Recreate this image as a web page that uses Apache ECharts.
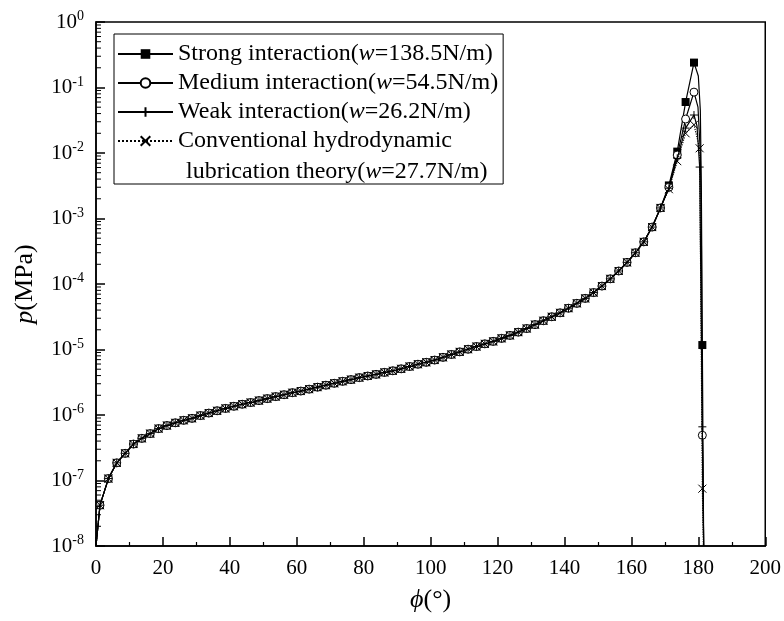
<!DOCTYPE html>
<html>
<head>
<meta charset="utf-8">
<script src="https://cdn.jsdelivr.net/npm/echarts@6/dist/echarts.min.js"></script>
<style>
  html, body { margin: 0; padding: 0; background: #fff; }
  #chart { width: 784px; height: 621px; }
</style>
</head>
<body>
<div id="chart"></div>
<script>
// shared part of the four curves (markers every ~2.5 deg)
const phiBody = [1.2, 3.7, 6.2, 8.7, 11.2, 13.7, 16.2, 18.7, 21.2, 23.7, 26.2, 28.7, 31.2, 33.7, 36.2, 38.7,
  41.2, 43.7, 46.2, 48.7, 51.2, 53.7, 56.2, 58.7, 61.2, 63.7, 66.2, 68.7, 71.2, 73.7, 76.2, 78.7,
  81.2, 83.7, 86.2, 88.7, 91.2, 93.7, 96.2, 98.7, 101.2, 103.7, 106.2, 108.7, 111.2, 113.7, 116.2, 118.7,
  121.2, 123.7, 126.2, 128.7, 131.2, 133.7, 136.2, 138.7, 141.2, 143.7, 146.2, 148.7, 151.2, 153.7, 156.2, 158.7,
  161.2, 163.7, 166.2, 168.7];
const pBody = [4.2e-8, 1.07e-7, 1.86e-7, 2.6e-7, 3.6e-7, 4.4e-7, 5.2e-7, 6.2e-7, 6.9e-7, 7.6e-7, 8.3e-7, 8.9e-7, 9.8e-7, 1.07e-6, 1.16e-6, 1.26e-6,
  1.36e-6, 1.46e-6, 1.55e-6, 1.66e-6, 1.78e-6, 1.91e-6, 2.04e-6, 2.19e-6, 2.32e-6, 2.48e-6, 2.66e-6, 2.85e-6, 3.05e-6, 3.27e-6, 3.47e-6, 3.72e-6,
  3.94e-6, 4.17e-6, 4.47e-6, 4.73e-6, 5.07e-6, 5.5e-6, 5.96e-6, 6.38e-6, 6.9e-6, 7.6e-6, 8.4e-6, 9.2e-6, 1.01e-5, 1.11e-5, 1.22e-5, 1.33e-5,
  1.48e-5, 1.64e-5, 1.84e-5, 2.09e-5, 2.4e-5, 2.75e-5, 3.16e-5, 3.63e-5, 4.27e-5, 5.07e-5, 6.03e-5, 7.4e-5, 9.3e-5, 1.2e-4, 1.58e-4, 2.14e-4,
  3.0e-4, 4.4e-4, 7.4e-4, 1.45e-3];
const phiStart = [0];
const pStart = [1e-8];

// peak part, markers
const phiStrongTail = [171.2, 173.7, 176.2, 178.7, 181.2];
const pStrongTail = [3.2e-3, 1.05e-2, 6.0e-2, 2.4e-1, 1.17e-5];
const phiMediumTail = [171.2, 173.7, 176.2, 178.7, 181.2];
const pMediumTail = [3.0e-3, 9.3e-3, 3.3e-2, 8.5e-2, 4.9e-7];
const phiWeakTail = [171.2, 173.7, 176.2, 178.7, 180.4, 181.2];
const pWeakTail = [2.9e-3, 8.3e-3, 2.4e-2, 3.8e-2, 6.1e-3, 6.6e-7];
const phiConvTail = [171.2, 173.7, 176.2, 178.7, 180.4, 181.2];
const pConvTail = [2.8e-3, 7.5e-3, 2.0e-2, 2.7e-2, 1.18e-2, 7.5e-8];

// peak part, line only (no marker)
const phiStrongBend = [180.0, 180.6, 180.9, 181.6];
const pStrongBend = [1.5e-1, 4.5e-2, 3e-3, 1e-8];
const phiMediumBend = [179.9, 180.6, 180.9, 181.6];
const pMediumBend = [5.0e-2, 1.0e-2, 8e-4, 1e-8];
const phiWeakBend = [179.6, 181.6];
const pWeakBend = [2.6e-2, 1e-8];
const phiConvBend = [181.5];
const pConvBend = [1e-8];

const seriesNames = ['Strong interaction', 'Medium interaction', 'Weak interaction', 'Conventional hydrodynamic'];
const loads = ['138.5', '54.5', '26.2', '27.7'];

const minorMantissa = [2, 3, 4, 5, 6, 7, 8, 9];
const decades = [-8, -7, -6, -5, -4, -3, -2, -1];

const FONT = '"Liberation Serif", "DejaVu Serif", serif';

function buildData(phiMarks, pMarks, phiLine, pLine) {
  const pts = [];
  phiMarks.forEach((x, i) => pts.push({ value: [x, pMarks[i]] }));
  phiLine.forEach((x, i) => pts.push({ value: [x, pLine[i]], symbol: 'none' }));
  pts.sort((a, b) => a.value[0] - b.value[0]);
  return pts;
}

const minorTicks = [];
decades.forEach(d => minorMantissa.forEach(m => minorTicks.push([0, m * Math.pow(10, d)])));

const rich = {
  n: { fontFamily: FONT, fontSize: 24, lineHeight: 24, color: '#000' },
  i: { fontFamily: FONT, fontSize: 24, lineHeight: 24, fontStyle: 'italic', color: '#000' }
};
const nameRich = {
  n: { fontFamily: FONT, fontSize: 26, color: '#000' },
  i: { fontFamily: FONT, fontSize: 26, fontStyle: 'italic', color: '#000' }
};

const chart = echarts.init(document.getElementById('chart'), null, { renderer: 'canvas' });

function lineSeries(idx, phiTail, pTail, phiBend, pBend, symbol, itemStyle, dotted) {
  return {
    name: seriesNames[idx],
    type: 'line',
    data: buildData(phiBody.concat(phiTail), pBody.concat(pTail), phiStart.concat(phiBend), pStart.concat(pBend)),
    symbol: symbol,
    symbolSize: 8,
    showSymbol: true,
    showAllSymbol: true,
    lineStyle: { color: '#000', width: 1.2, type: dotted ? 'dotted' : 'solid' },
    itemStyle: itemStyle,
    animation: false,
    clip: true,
    z: 3 + idx
  };
}

const option = {
  animation: false,
  backgroundColor: '#fff',
  grid: {
    left: 96, right: 16, top: 22, bottom: 75,
    show: true, borderColor: '#000', borderWidth: 1.5
  },
  legend: {
    data: seriesNames,
    orient: 'vertical',
    left: 114,
    top: 34,
    padding: [8, 5, 31, 3],
    itemWidth: 55,
    itemHeight: 12,
    itemGap: 5,
    borderColor: '#000',
    borderWidth: 1,
    selectedMode: false,
    textStyle: { fontFamily: FONT, fontSize: 24, lineHeight: 24, color: '#000', rich: rich },
    formatter: function (name) {
      const i = seriesNames.indexOf(name);
      if (i === 3) return '{n|' + name + '}';
      return '{n|' + name + '(}{i|w}{n|=' + loads[i] + 'N/m)}';
    }
  },
  graphic: [{
    type: 'text',
    left: 186,
    top: 160,
    style: {
      text: '{n|lubrication theory(}{i|w}{n|=' + loads[3] + 'N/m)}',
      rich: rich
    }
  }],
  xAxis: {
    type: 'value',
    min: 0,
    max: 200,
    interval: 20,
    name: '{i|ϕ}{n|(°)}',
    nameLocation: 'middle',
    nameGap: 41,
    nameTextStyle: { rich: nameRich },
    axisLine: { lineStyle: { color: '#000', width: 1.5 } },
    axisTick: { inside: true, length: 9, lineStyle: { color: '#000', width: 1.5 } },
    minorTick: { show: true, splitNumber: 2, length: 4, lineStyle: { color: '#000', width: 1.2 } },
    axisLabel: { fontFamily: FONT, fontSize: 21, color: '#000', margin: 12 },
    splitLine: { show: false }
  },
  yAxis: {
    type: 'log',
    logBase: 10,
    min: 1e-8,
    max: 1,
    splitNumber: 8,
    name: '{i|p}{n|(MPa)}',
    nameLocation: 'middle',
    nameGap: 58,
    nameTextStyle: { rich: nameRich },
    axisLine: { lineStyle: { color: '#000', width: 1.5 } },
    axisTick: { inside: true, length: 9, lineStyle: { color: '#000', width: 1.5 } },
    axisLabel: {
      margin: 12,
      formatter: function (v) {
        const e = Math.round(Math.log10(v));
        return '{b|10}{s|' + e + '}';
      },
      rich: {
        b: { fontFamily: FONT, fontSize: 21, color: '#000' },
        s: { fontFamily: FONT, fontSize: 14, color: '#000', verticalAlign: 'top', padding: [0, 0, 11, 0] }
      }
    },
    splitLine: { show: false }
  },
  series: [
    lineSeries(0, phiStrongTail, pStrongTail, phiStrongBend, pStrongBend, 'rect',
      { color: '#000' }, false),
    lineSeries(1, phiMediumTail, pMediumTail, phiMediumBend, pMediumBend, 'circle',
      { color: '#fff', borderColor: '#000', borderWidth: 1 }, false),
    lineSeries(2, phiWeakTail, pWeakTail, phiWeakBend, pWeakBend, 'path://M0,5L10,5M5,0L5,10',
      { color: '#000', borderColor: '#000', borderWidth: 1 }, false),
    lineSeries(3, phiConvTail, pConvTail, phiConvBend, pConvBend, 'path://M0,0L10,10M0,10L10,0',
      { color: '#000', borderColor: '#000', borderWidth: 1 }, true),
    {
      type: 'custom',
      name: 'minorTicks',
      coordinateSystem: 'cartesian2d',
      data: minorTicks,
      silent: true,
      clip: false,
      z: 10,
      renderItem: function (params, api) {
        const pt = api.coord([0, api.value(1)]);
        return {
          type: 'line',
          shape: { x1: pt[0], y1: pt[1], x2: pt[0] + 5, y2: pt[1] },
          style: { stroke: '#000', lineWidth: 1 }
        };
      }
    }
  ]
};

chart.setOption(option);
</script>
</body>
</html>
